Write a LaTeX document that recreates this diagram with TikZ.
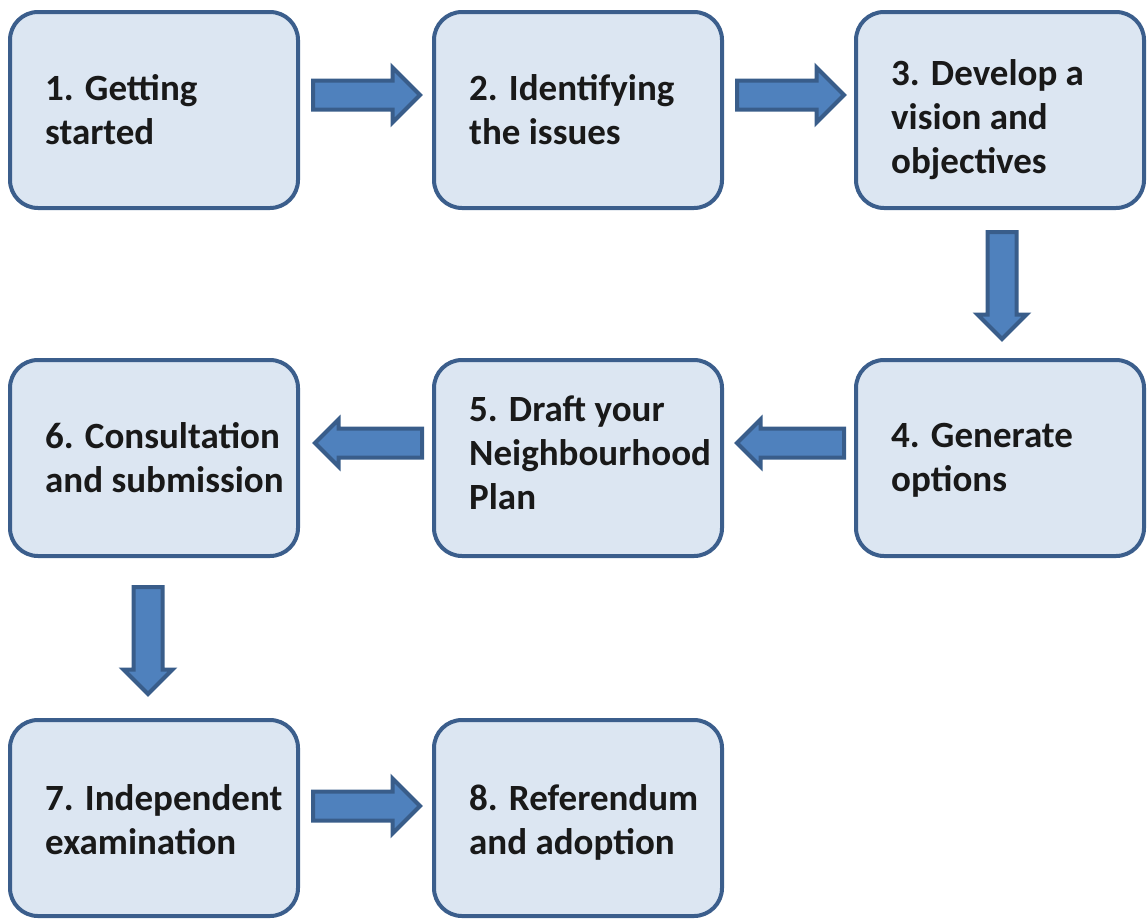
\documentclass[tikz,border=0pt]{standalone}
\usepackage{fontspec}
\setmainfont{Carlito}
\usetikzlibrary{shapes.arrows,calc}
\definecolor{boxfill}{HTML}{DCE6F2}
\definecolor{boxline}{HTML}{3B5E8C}
\definecolor{arrfill}{HTML}{4F81BD}
\definecolor{arrline}{HTML}{395D8A}
\tikzset{
  stepbox/.style={draw=boxline, fill=boxfill, line width=4pt, rounded corners=28pt,
    minimum width=288pt, minimum height=196pt, inner sep=0pt},
  steplabel/.style={anchor=west, align=left, inner sep=0pt,
    font=\fontsize{37}{44}\selectfont\bfseries, text=black!90},
  blockarrow/.style={single arrow, draw=arrline, fill=arrfill, line width=4pt,
    inner sep=12.5pt, minimum height=107pt, single arrow head extend=13pt,
    single arrow tip angle=90, anchor=tail},
  rarr/.style={blockarrow, shape border rotate=0},
  larr/.style={blockarrow, shape border rotate=180, single arrow head extend=9pt},
  darr/.style={blockarrow, shape border rotate=270, single arrow head extend=10pt},
}
\begin{document}
\begin{tikzpicture}[x=1pt,y=-1pt]
\useasboundingbox (0,0) rectangle (1147,918);
% boxes
\node[stepbox] (b1) at (154,110) {};
\node[stepbox] (b2) at (578,110) {};
\node[stepbox] (b3) at (1000,110) {};
\node[stepbox] (b4) at (1000,458) {};
\node[stepbox] (b5) at (578,458) {};
\node[stepbox] (b6) at (154,458) {};
\node[stepbox] (b7) at (154,818) {};
\node[stepbox] (b8) at (578,818) {};
% labels
\node[steplabel] (t1) at ($(b1.west)+(37,0)$) {1. Getting\\started};
\node[steplabel] (t2) at ($(b2.west)+(37,0)$) {2. Identifying\\the issues};
\node[steplabel] (t3) at ($(b3.west)+(37,10)$) {3. Develop a\\vision and\\objectives};
\node[steplabel] (t4) at ($(b4.west)+(37,2)$) {4. Generate\\options};
\node[steplabel] (t5) at ($(b5.west)+(37,-5)$) {5. Draft your\\Neighbourhood\\Plan};
\node[steplabel] (t6) at ($(b6.west)+(37,0)$) {6. Consultation\\and submission};
\node[steplabel] (t7) at ($(b7.west)+(37,2)$) {7. Independent\\examination};
\node[steplabel] (t8) at ($(b8.west)+(37,4)$) {8. Referendum\\and adoption};
% arrows
\node[rarr] (a12) at ($(b1.east)+(11,-15)$) {};
\node[rarr] (a23) at ($(b2.east)+(11,-15)$) {};
\node[darr] (a34) at ($(b3.south)+(2,20)$) {};
\node[larr] (a45) at ($(b4.west)+(-8,-15)$) {};
\node[larr] (a56) at ($(b5.west)+(-8,-15)$) {};
\node[darr] (a67) at ($(b6.south)+(-6,27)$) {};
\node[rarr] (a78) at ($(b7.east)+(11,-12)$) {};
\end{tikzpicture}
\end{document}
